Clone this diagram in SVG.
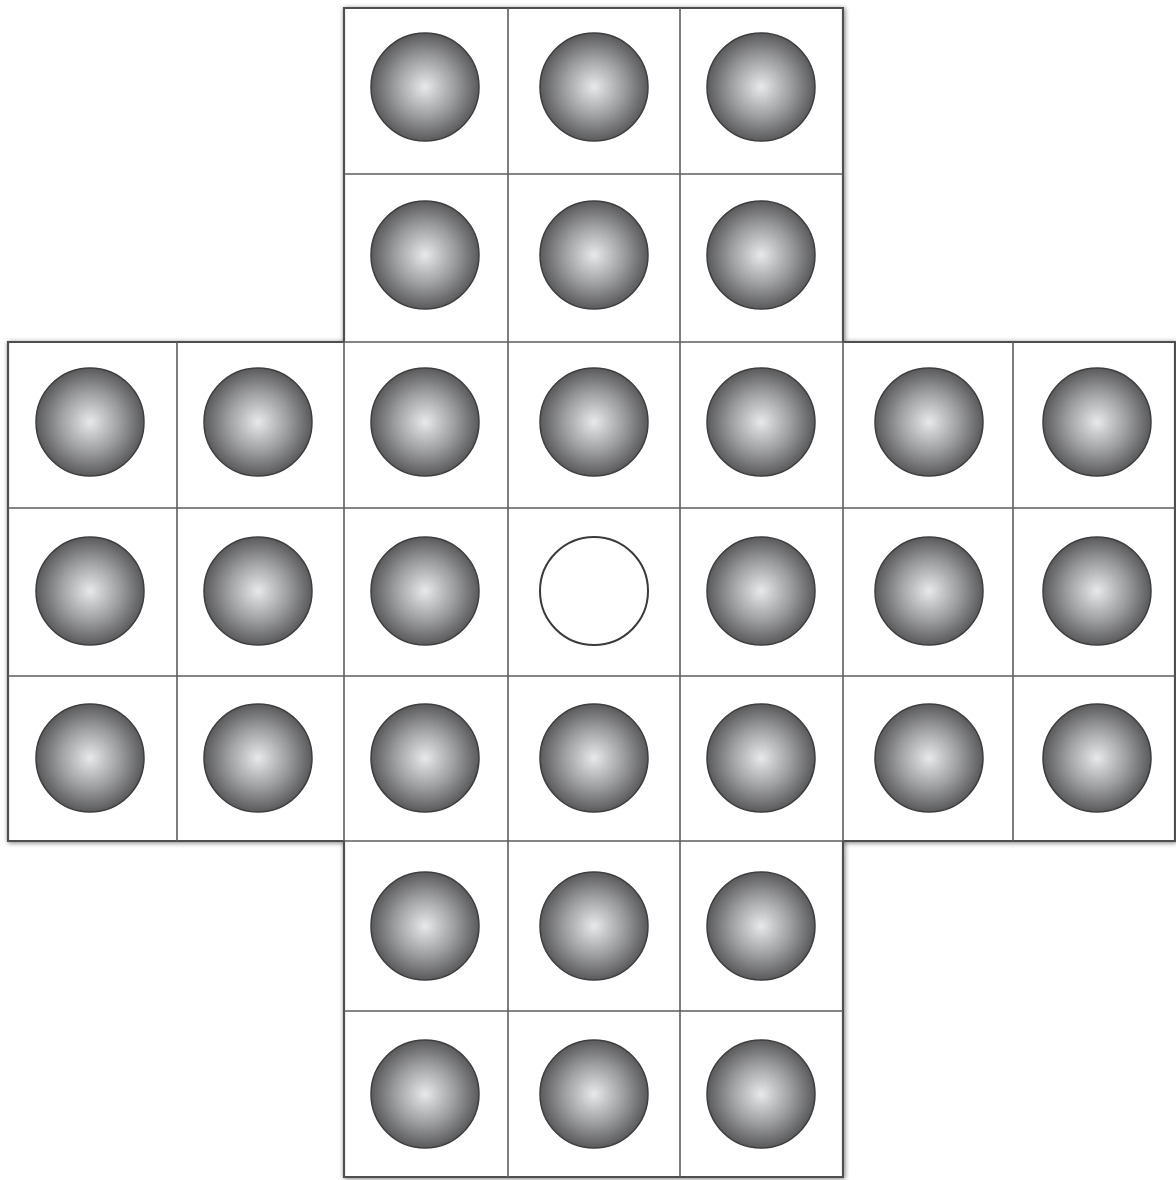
<svg xmlns="http://www.w3.org/2000/svg" width="1176" height="1180" viewBox="0 0 1176 1180">
<defs>
<radialGradient id="ball" cx="0.5" cy="0.5" r="0.5">
<stop offset="0" stop-color="#e8e9ea"/>
<stop offset="0.55" stop-color="#9d9ea0"/>
<stop offset="1" stop-color="#5a5a5c"/>
</radialGradient>
<filter id="sh" x="-5%" y="-5%" width="110%" height="110%">
<feGaussianBlur in="SourceAlpha" stdDeviation="2.5"/>
<feOffset dx="1" dy="1"/>
<feComponentTransfer><feFuncA type="linear" slope="0.5"/></feComponentTransfer>
<feMerge><feMergeNode/><feMergeNode in="SourceGraphic"/></feMerge>
</filter>
</defs>
<style>
.peg{fill:url(#ball);stroke:#3e3e40;stroke-width:1.5}
.hole{fill:#fff;stroke:#3a3a3a;stroke-width:2}
.grid{stroke:#5e5e5e;stroke-width:1.6;fill:none}
.board{fill:#fff;stroke:#505050;stroke-width:2.2}
</style>
<rect width="1176" height="1180" fill="#fff"/>
<g id="board">
<path class="board" filter="url(#sh)" d="M344,8 H843 V342 H1175 V841 H843 V1177 H344 V841 H8 V342 H344 Z"/>
</g>
<g id="grid-lines">
<path class="grid" d="M508,8 V1177 M680,8 V1177 M344,342 V841 M843,342 V841 M177,342 V841 M1013,342 V841 M344,174 H843 M344,342 H843 M8,508 H1175 M8,676 H1175 M344,841 H843 M344,1011 H843"/>
</g>
<g id="r1c3"><circle class="peg" cx="425" cy="87" r="54"/></g>
<g id="r1c4"><circle class="peg" cx="594" cy="87" r="54"/></g>
<g id="r1c5"><circle class="peg" cx="761" cy="87" r="54"/></g>
<g id="r2c3"><circle class="peg" cx="425" cy="255" r="54"/></g>
<g id="r2c4"><circle class="peg" cx="594" cy="255" r="54"/></g>
<g id="r2c5"><circle class="peg" cx="761" cy="255" r="54"/></g>
<g id="r3c1"><circle class="peg" cx="90" cy="422" r="54"/></g>
<g id="r3c2"><circle class="peg" cx="258" cy="422" r="54"/></g>
<g id="r3c3"><circle class="peg" cx="425" cy="422" r="54"/></g>
<g id="r3c4"><circle class="peg" cx="594" cy="422" r="54"/></g>
<g id="r3c5"><circle class="peg" cx="761" cy="422" r="54"/></g>
<g id="r3c6"><circle class="peg" cx="929" cy="422" r="54"/></g>
<g id="r3c7"><circle class="peg" cx="1097" cy="422" r="54"/></g>
<g id="r4c1"><circle class="peg" cx="90" cy="591" r="54"/></g>
<g id="r4c2"><circle class="peg" cx="258" cy="591" r="54"/></g>
<g id="r4c3"><circle class="peg" cx="425" cy="591" r="54"/></g>
<g id="r4c4"><circle class="hole" cx="594" cy="591" r="54"/></g>
<g id="r4c5"><circle class="peg" cx="761" cy="591" r="54"/></g>
<g id="r4c6"><circle class="peg" cx="929" cy="591" r="54"/></g>
<g id="r4c7"><circle class="peg" cx="1097" cy="591" r="54"/></g>
<g id="r5c1"><circle class="peg" cx="90" cy="758" r="54"/></g>
<g id="r5c2"><circle class="peg" cx="258" cy="758" r="54"/></g>
<g id="r5c3"><circle class="peg" cx="425" cy="758" r="54"/></g>
<g id="r5c4"><circle class="peg" cx="594" cy="758" r="54"/></g>
<g id="r5c5"><circle class="peg" cx="761" cy="758" r="54"/></g>
<g id="r5c6"><circle class="peg" cx="929" cy="758" r="54"/></g>
<g id="r5c7"><circle class="peg" cx="1097" cy="758" r="54"/></g>
<g id="r6c3"><circle class="peg" cx="425" cy="926" r="54"/></g>
<g id="r6c4"><circle class="peg" cx="594" cy="926" r="54"/></g>
<g id="r6c5"><circle class="peg" cx="761" cy="926" r="54"/></g>
<g id="r7c3"><circle class="peg" cx="425" cy="1094" r="54"/></g>
<g id="r7c4"><circle class="peg" cx="594" cy="1094" r="54"/></g>
<g id="r7c5"><circle class="peg" cx="761" cy="1094" r="54"/></g>
</svg>
